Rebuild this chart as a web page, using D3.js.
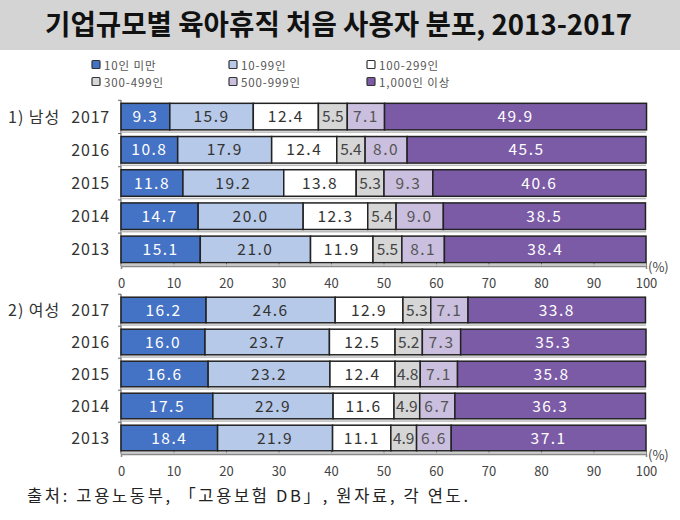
<!DOCTYPE html>
<html><head><meta charset="utf-8">
<script src="https://cdn.jsdelivr.net/npm/d3@7"></script>
<style>body{margin:0;background:#fff}svg{display:block}</style>
</head><body>
<script>
const years = ["2017","2016","2015","2014","2013"];
const sizeCats = ["10인 미만","10-99인","100-299인","300-499인","500-999인","1,000인 이상"];
const maleValues = [
  [9.3,15.9,12.4,5.5,7.1,49.9],
  [10.8,17.9,12.4,5.4,8.0,45.5],
  [11.8,19.2,13.8,5.3,9.3,40.6],
  [14.7,20.0,12.3,5.4,9.0,38.5],
  [15.1,21.0,11.9,5.5,8.1,38.4]
];
const femaleValues = [
  [16.2,24.6,12.9,5.3,7.1,33.8],
  [16.0,23.7,12.5,5.2,7.3,35.3],
  [16.6,23.2,12.4,4.8,7.1,35.8],
  [17.5,22.9,11.6,4.9,6.7,36.3],
  [18.4,21.9,11.1,4.9,6.6,37.1]
];
const xTicks = [0,10,20,30,40,50,60,70,80,90,100];
const panelLabels = ["1) 남성","2) 여성"];
const titleText = "기업규모별 육아휴직 처음 사용자 분포, 2013-2017";
const sourceText = "출처: 고용노동부, 「고용보험 DB」, 원자료, 각 연도.";

const fills = ["#4472C4","#B7C9E8","#FFFFFF","#D6D6D6","#CBBFDF","#7B5BA6"];
const labelColors = ["#FFFFFF","#333333","#333333","#444444","#555555","#FFFFFF"];
const FONT = "'Noto Sans CJK KR','Noto Sans',sans-serif";

const W = 680, H = 520;
const svg = d3.select("body").append("svg").attr("width", W).attr("height", H)
  .style("font-family", FONT);

// title band
svg.append("rect").attr("x",0).attr("y",0).attr("width",W).attr("height",50).attr("fill","#D4D4D4");
svg.append("text").attr("x",45).attr("y",35).attr("textLength",587).attr("lengthAdjust","spacingAndGlyphs")
  .attr("font-size",28).attr("font-weight",700).attr("fill","#111").text(titleText);

// legend
const legX = [92, 229, 367], legY = [65, 82];
sizeCats.forEach((c,i)=>{
  const lx = legX[i%3], ly = legY[Math.floor(i/3)];
  svg.append("rect").attr("x",lx).attr("y",ly-4.5).attr("width",8).attr("height",8)
    .attr("fill",fills[i]).attr("stroke","#333").attr("stroke-width",1.2).attr("rx",1);
  svg.append("text").attr("x",lx+12).attr("y",ly+4.5).attr("font-size",11.5).attr("letter-spacing",0.9)
    .attr("fill","#555").text(c);
});

const x = d3.scaleLinear().domain([0,100]).range([121,646]);

function panel(values, label, y0, y1) {
  const y = d3.scaleBand().domain(years).range([y0,y1]).paddingInner(0.2).paddingOuter(0.1);
  const g = svg.append("g");
  const xa = g.append("g").attr("transform",`translate(0,${y1})`)
    .call(d3.axisBottom(x).tickValues(xTicks).tickSize(3).tickPadding(7).tickFormat(d3.format("d")));
  xa.select(".domain").attr("stroke","#888").attr("stroke-width",1.5);
  xa.selectAll(".tick line").attr("stroke","#888").attr("transform","translate(0,-3)");
  xa.selectAll("text").attr("font-size",13).attr("fill","#444").attr("font-family",FONT).attr("dy","0.9em");
  g.append("line").attr("x1",x(0)).attr("x2",x(0)).attr("y1",y0).attr("y2",y1).attr("stroke","#888").attr("stroke-width",1.5);
  years.forEach(yr=>{
    g.append("line").attr("x1",x(0)-3).attr("x2",x(0)).attr("y1",y(yr)-3).attr("y2",y(yr)-3).attr("stroke","#666");
  });
  g.append("text").attr("x",x(100)+2).attr("y",y1+6).attr("font-size",13).attr("fill","#444").text("(%)");

  const rows = years.map((yr,i)=>{
    const st = d3.stack().keys(d3.range(6))([Object.assign({},values[i])]);
    return {yr, segs: st.map((s,k)=>({k, x0:s[0][0], x1:s[0][1], v: values[i][k]}))};
  });
  rows.forEach(r=>{
    const gy = y(r.yr), bh = y.bandwidth();
    g.append("rect").attr("x",x(0)).attr("y",gy+bh+1.5).attr("width",x(100)-x(0)).attr("height",1.5).attr("fill","#bbb");
    r.segs.forEach(s=>{
      g.append("rect").attr("x",x(s.x0)).attr("y",gy).attr("width",x(s.x1)-x(s.x0)).attr("height",bh)
        .attr("fill",fills[s.k]).attr("stroke","#222").attr("stroke-width",1.5);
      g.append("text").attr("x",(x(s.x0)+x(s.x1))/2).attr("y",gy+bh/2+5.5).attr("text-anchor","middle")
        .attr("font-size",15.5).attr("letter-spacing",s.v<6?0:1.5).attr("fill",labelColors[s.k]).text(s.v.toFixed(1));
    });
    g.append("text").attr("x",110).attr("y",gy+bh/2+6).attr("text-anchor","end")
      .attr("font-size",16).attr("letter-spacing",0.8).attr("fill","#333").text(r.yr);
  });
  g.append("text").attr("x",8).attr("y",y(years[0])+y.bandwidth()/2+6).attr("font-size",16)
    .attr("letter-spacing",1).attr("fill","#333").text(label);
}

panel(maleValues, panelLabels[0], 100, 266);
panel(femaleValues, panelLabels[1], 294, 454);

svg.append("text").attr("x",27).attr("y",502).attr("font-size",16.5).attr("textLength",441)
  .attr("lengthAdjust","spacing").attr("fill","#222").text(sourceText);
</script>
</body></html>
